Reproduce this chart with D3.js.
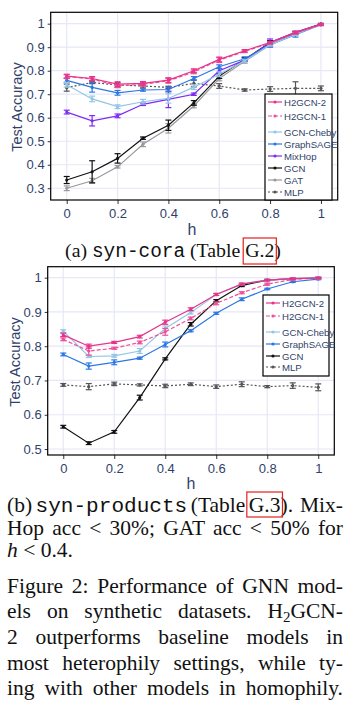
<!DOCTYPE html>
<html><head><meta charset="utf-8">
<script src="https://cdn.jsdelivr.net/npm/d3@7"></script>
<style>
html,body{margin:0;padding:0;background:#fff;}
svg{display:block;}
</style></head>
<body>
<svg id="fig" width="354" height="706"></svg>
<script>
// ---------- data ----------
const hValues = [0,0.1,0.2,0.3,0.4,0.5,0.6,0.7,0.8,0.9,1];
const xTicks = [0,0.2,0.4,0.6,0.8,1];
const xTickLabels = ["0","0.2","0.4","0.6","0.8","1"];
const coraYTicks = [0.3,0.4,0.5,0.6,0.7,0.8,0.9,1];
const prodYTicks = [0.5,0.6,0.7,0.8,0.9,1];

const coraSeriesNames = ["H2GCN-2","H2GCN-1","GCN-Cheby","GraphSAGE","MixHop","GCN","GAT","MLP"];
const coraH2GCN2 = [0.777,0.767,0.743,0.746,0.760,0.800,0.848,0.885,0.920,0.963,0.997];
const coraH2GCN1 = [0.775,0.765,0.736,0.742,0.757,0.795,0.845,0.882,0.918,0.960,0.995];
const coraCheby  = [0.740,0.680,0.647,0.668,0.682,0.730,0.785,0.842,0.910,0.955,0.995];
const coraSAGE   = [0.759,0.729,0.706,0.718,0.720,0.767,0.817,0.851,0.911,0.953,0.996];
const coraMixHop = [0.624,0.587,0.608,0.657,0.678,0.700,0.800,0.845,0.920,0.963,0.998];
const coraGCN    = [0.335,0.370,0.427,0.513,0.568,0.663,0.777,0.848,0.920,0.962,0.998];
const coraGAT    = [0.300,0.332,0.391,0.487,0.555,0.650,0.767,0.840,0.909,0.959,0.998];
const coraMLP    = [0.728,0.750,0.739,0.735,0.729,0.746,0.735,0.718,0.722,0.725,0.725];
const coraErrH2GCN2 = [0.008,0.008,0.010,0.008,0.010,0.008,0.010,0.005,0.005,0.005,0.003];
const coraErrH2GCN1 = [0.008,0.008,0.008,0.008,0.010,0.008,0.010,0.005,0.005,0.005,0.003];
const coraErrCheby  = [0.010,0.012,0.008,0.010,0.020,0.010,0.010,0.005,0.005,0.005,0.003];
const coraErrSAGE   = [0.008,0.020,0.010,0.005,0.010,0.008,0.008,0.008,0.010,0.010,0.003];
const coraErrMixHop = [0.008,0.022,0.008,0.005,0.035,0.005,0.010,0.005,0.015,0.005,0.003];
const coraErrGCN    = [0.015,0.047,0.020,0.005,0.022,0.010,0.010,0.008,0.008,0.005,0.003];
const coraErrGAT    = [0.010,0.010,0.005,0.010,0.020,0.008,0.010,0.008,0.010,0.005,0.003];
const coraErrMLP    = [0.015,0.005,0.010,0.008,0.005,0.015,0.010,0.005,0.010,0.028,0.010];

const prodSeriesNames = ["H2GCN-2","H2GCN-1","GCN-Cheby","GraphSAGE","GCN","MLP"];
const prodH2GCN2 = [0.833,0.800,0.811,0.828,0.870,0.908,0.951,0.981,0.993,0.997,0.999];
const prodH2GCN1 = [0.820,0.786,0.794,0.811,0.842,0.881,0.925,0.956,0.981,0.995,0.999];
const prodCheby  = [0.844,0.770,0.772,0.786,0.852,0.898,0.951,0.982,0.993,0.997,0.999];
const prodSAGE   = [0.776,0.742,0.753,0.765,0.805,0.845,0.896,0.937,0.967,0.988,0.996];
const prodGCN    = [0.565,0.517,0.550,0.650,0.763,0.864,0.933,0.977,0.993,0.997,0.999];
const prodMLP    = [0.687,0.682,0.690,0.687,0.684,0.689,0.682,0.689,0.682,0.685,0.680];
const prodErrH2GCN2 = [0.005,0.006,0.003,0.004,0.006,0.004,0.003,0.003,0.002,0.002,0.002];
const prodErrH2GCN1 = [0.004,0.012,0.003,0.004,0.010,0.004,0.004,0.003,0.003,0.002,0.002];
const prodErrCheby  = [0.004,0.003,0.004,0.007,0.007,0.004,0.003,0.002,0.002,0.002,0.002];
const prodErrSAGE   = [0.004,0.009,0.007,0.003,0.007,0.003,0.003,0.004,0.002,0.002,0.002];
const prodErrGCN    = [0.004,0.004,0.004,0.007,0.003,0.005,0.003,0.003,0.002,0.002,0.002];
const prodErrMLP    = [0.004,0.009,0.005,0.003,0.005,0.004,0.005,0.007,0.003,0.008,0.010];

const captionA = ["(a) ", "syn-cora", " (Table ", "G.2", ")"];
const captionB1 = ["(b) ", "syn-products", " (Table ", "G.3", ").  Mix-"];
const captionB2 = "Hop acc < 30%; GAT acc < 50% for";
const captionB3 = ["h", " < 0.4."];
const figLines = [
  "Figure 2: Performance of GNN mod-",
  "els on synthetic datasets. H|2|GCN-",
  "2 outperforms baseline models in",
  "most heterophily settings, while ty-",
  "ing with other models in homophily."
];

// ---------- styles ----------
const styles = {
  "H2GCN-2":  {color:"#e8338a", dash:null},
  "H2GCN-1":  {color:"#ee4f98", dash:"4,2"},
  "GCN-Cheby":{color:"#93c6e6", dash:null},
  "GraphSAGE":{color:"#2b77e4", dash:null},
  "MixHop":   {color:"#7d2cf2", dash:null},
  "GCN":      {color:"#111111", dash:null},
  "GAT":      {color:"#9a9a9a", dash:null},
  "MLP":      {color:"#555555", dash:"2,2"}
};
const tickColor = "#2f3f6a";
const svg = d3.select("#fig");

function drawChart(cfg){
  const g = svg.append("g");
  const x = d3.scaleLinear().domain(cfg.xDom).range([cfg.left, cfg.right]);
  const y = d3.scaleLinear().domain(cfg.yDom).range([cfg.bottom, cfg.top]);
  // grid
  g.append("g").selectAll("line").data(cfg.yTicks).join("line")
    .attr("x1",cfg.left).attr("x2",cfg.right)
    .attr("y1",d=>y(d)).attr("y2",d=>y(d))
    .attr("stroke","#e6e8f5").attr("stroke-width",1.2);
  g.append("g").selectAll("line").data(xTicks).join("line")
    .attr("y1",cfg.top).attr("y2",cfg.bottom)
    .attr("x1",d=>x(d)).attr("x2",d=>x(d))
    .attr("stroke","#e6e8f5").attr("stroke-width",1.2);
  // axes
  const xa = g.append("g").attr("transform",`translate(0,${cfg.bottom})`)
    .call(d3.axisBottom(x).tickValues(xTicks).tickFormat((d,i)=>xTickLabels[i]).tickSize(4).tickPadding(5));
  const ya = g.append("g").attr("transform",`translate(${cfg.left},0)`)
    .call(d3.axisLeft(y).tickValues(cfg.yTicks).tickFormat(d3.format("~g")).tickSize(3).tickPadding(3));
  [xa,ya].forEach(a=>{
    a.select(".domain").remove();
    a.selectAll(".tick line").attr("stroke","#333");
    a.selectAll("text").attr("fill",tickColor).attr("font-family","Liberation Sans, Arial, sans-serif").attr("font-size",13);
  });
  // frame
  g.append("rect").attr("x",cfg.left).attr("y",cfg.top)
    .attr("width",cfg.right-cfg.left).attr("height",cfg.bottom-cfg.top)
    .attr("fill","none").attr("stroke","#000").attr("stroke-width",1.2);
  // axis titles
  g.append("text").attr("x",cfg.hX).attr("y",cfg.hY).attr("text-anchor","middle")
    .attr("font-family","Liberation Sans, Arial, sans-serif").attr("font-size",16)
    .attr("fill",tickColor).text("h");
  g.append("text").attr("transform",`translate(${cfg.yTitleX},${cfg.yTitleY}) rotate(-90)`)
    .attr("text-anchor","middle").attr("font-family","Liberation Sans, Arial, sans-serif")
    .attr("font-size",14.5).attr("fill",tickColor).text("Test Accuracy");
  // series (draw in reverse so H2GCN on top)
  const line = d3.line().x(d=>x(d.h)).y(d=>y(d.v));
  cfg.series.slice().reverse().forEach(s=>{
    const st = styles[s.name];
    const pts = hValues.map((h,i)=>({h, v:s.values[i], e:s.err[i]}));
    const sg = g.append("g");
    sg.append("path").datum(pts).attr("d",line).attr("fill","none")
      .attr("stroke",st.color).attr("stroke-width",1.2)
      .attr("stroke-dasharray",st.dash);
    const eb = sg.append("g").selectAll("g").data(pts).join("g");
    eb.append("line").attr("x1",d=>x(d.h)).attr("x2",d=>x(d.h))
      .attr("y1",d=>y(d.v-d.e)).attr("y2",d=>y(d.v+d.e))
      .attr("stroke",st.color).attr("stroke-width",1.2);
    [-1,1].forEach(sgn=>{
      eb.append("line").attr("x1",d=>x(d.h)-3).attr("x2",d=>x(d.h)+3)
        .attr("y1",d=>y(d.v+sgn*d.e)).attr("y2",d=>y(d.v+sgn*d.e))
        .attr("stroke",st.color).attr("stroke-width",1.2);
    });
    sg.append("g").selectAll("circle").data(pts).join("circle")
      .attr("cx",d=>x(d.h)).attr("cy",d=>y(d.v)).attr("r",1.6).attr("fill",st.color);
  });
  // legend
  const L = cfg.legend;
  g.append("rect").attr("x",L.x).attr("y",L.y).attr("width",L.w).attr("height",L.h)
    .attr("fill","#fff").attr("stroke","#000").attr("stroke-width",1.2);
  const lg = g.append("g").selectAll("g").data(cfg.series).join("g")
    .attr("transform",(d,i)=>`translate(${L.x+3},${L.rows[i]})`);
  lg.append("line").attr("x1",0).attr("x2",14).attr("y1",0).attr("y2",0)
    .attr("stroke",d=>styles[d.name].color).attr("stroke-width",1.2)
    .attr("stroke-dasharray",d=>styles[d.name].dash);
  lg.append("circle").attr("cx",7).attr("cy",0).attr("r",1.6).attr("fill",d=>styles[d.name].color);
  lg.append("text").attr("x",16).attr("y",3.5).attr("font-family","Liberation Sans, Arial, sans-serif")
    .attr("font-size",9.6).attr("fill",tickColor).text(d=>d.name);
}

drawChart({
  left:50.7, right:337.7, top:12.3, bottom:200,
  xDom:[-0.063,1.066], yDom:[0.25,1.0485], yTicks:coraYTicks,
  hX:192, hY:235, yTitleX:22, yTitleY:107,
  legend:{x:265, y:94, w:67, h:106, rows:[102,116,132,144,156,168,180,192]},
  series:[
    {name:"H2GCN-2",values:coraH2GCN2,err:coraErrH2GCN2},
    {name:"H2GCN-1",values:coraH2GCN1,err:coraErrH2GCN1},
    {name:"GCN-Cheby",values:coraCheby,err:coraErrCheby},
    {name:"GraphSAGE",values:coraSAGE,err:coraErrSAGE},
    {name:"MixHop",values:coraMixHop,err:coraErrMixHop},
    {name:"GCN",values:coraGCN,err:coraErrGCN},
    {name:"GAT",values:coraGAT,err:coraErrGAT},
    {name:"MLP",values:coraMLP,err:coraErrMLP}
  ]
});
drawChart({
  left:47.7, right:334.3, top:266.7, bottom:455,
  xDom:[-0.061,1.063], yDom:[0.4825,1.032], yTicks:prodYTicks,
  hX:191, hY:489, yTitleX:20, yTitleY:362,
  legend:{x:263, y:295, w:66, h:81, rows:[303,316,332,344,356,367]},
  series:[
    {name:"H2GCN-2",values:prodH2GCN2,err:prodErrH2GCN2},
    {name:"H2GCN-1",values:prodH2GCN1,err:prodErrH2GCN1},
    {name:"GCN-Cheby",values:prodCheby,err:prodErrCheby},
    {name:"GraphSAGE",values:prodSAGE,err:prodErrSAGE},
    {name:"GCN",values:prodGCN,err:prodErrGCN},
    {name:"MLP",values:prodMLP,err:prodErrMLP}
  ]
});

// ---------- captions ----------
const serif = "Liberation Serif, Times New Roman, serif";
const mono = "Liberation Mono, DejaVu Sans Mono, monospace";
function captionParts(parts, xPos, yPos, size, anchor){
  const t = svg.append("text").attr("x",xPos).attr("y",yPos).attr("font-family",serif)
    .attr("font-size",size).attr("fill","#111").attr("text-anchor",anchor||"start")
    .style("white-space","pre");
  parts.forEach((p,i)=>{
    const ts = t.append("tspan").text(p);
    if(i===1) ts.attr("font-family",mono).attr("font-size",size*0.98);
  });
  return t;
}
function redBox(t, idx, y0, y1){
  const node = t.node();
  let start = 0; for(let i=0;i<idx;i++) start += node.childNodes[i].textContent.length;
  const len = node.childNodes[idx].textContent.length;
  const s = node.getStartPositionOfChar(start).x;
  const e = node.getEndPositionOfChar(start+len-1).x;
  svg.append("rect").attr("x",s-2).attr("y",y0).attr("width",e-s+4).attr("height",y1-y0)
    .attr("fill","none").attr("stroke","#e5201b").attr("stroke-width",1.2);
}
function justify(t, width){
  const n = t.node();
  const w = n.getComputedTextLength();
  const spaces = (n.textContent.match(/ /g)||[]).length;
  if(spaces>0) t.attr("word-spacing", (width - w)/spaces);
}
// caption (a)
const ca = captionParts(captionA, 173, 257, 19.8, "middle");
redBox(ca, 3, 238, 264);

// caption (b)
const cb1 = captionParts(captionB1, 7, 512, 21.5);
justify(cb1, 336);
redBox(cb1, 3, 492, 517);
const cb2 = svg.append("text").attr("x",7).attr("y",535).attr("font-family",serif)
  .attr("font-size",21.5).attr("fill","#111").style("white-space","pre").text(captionB2);
justify(cb2, 336);
const cb3 = svg.append("text").attr("x",7).attr("y",557).attr("font-family",serif)
  .attr("font-size",21.5).attr("fill","#111").style("white-space","pre");
cb3.append("tspan").attr("font-style","italic").text(captionB3[0]);
cb3.append("tspan").text(captionB3[1]);

// figure caption paragraph
const baselines = [593,618,644,670,695];
figLines.forEach((ln,i)=>{
  const t = svg.append("text").attr("x",7).attr("y",baselines[i]).attr("font-family",serif)
    .attr("font-size",21.5).attr("fill","#111").style("white-space","pre");
  if(ln.includes("|")){
    const p = ln.split("|");
    t.append("tspan").text(p[0]);
    t.append("tspan").attr("font-size",15).attr("dy",4).text(p[1]);
    t.append("tspan").attr("dy",-4).text(p[2]);
  } else t.text(ln);
  justify(t, 336);
});
</script>
</body></html>
